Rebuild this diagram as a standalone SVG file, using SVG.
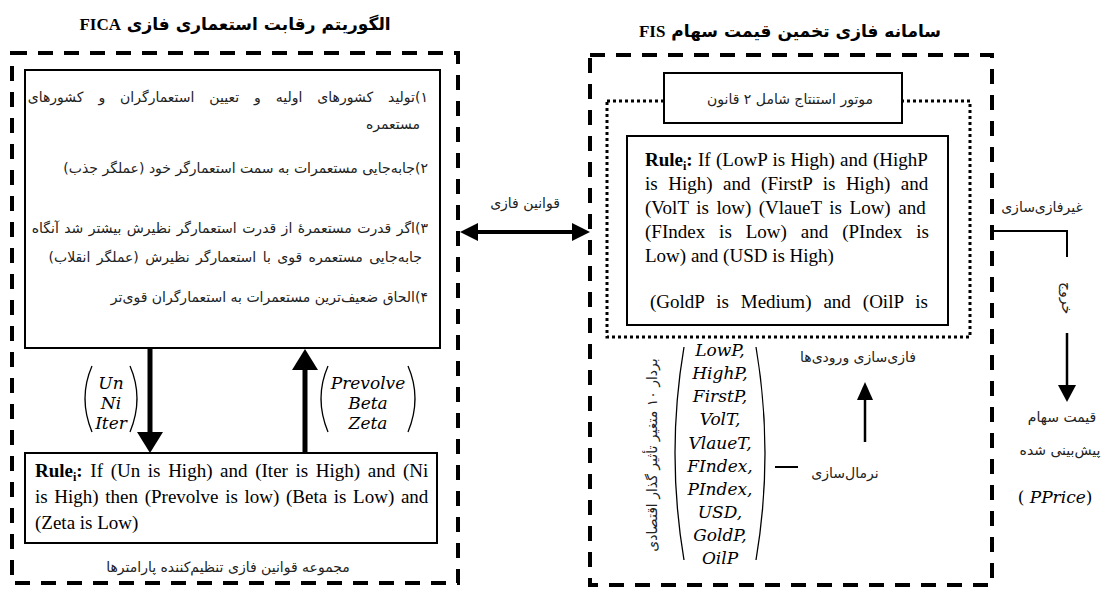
<svg xmlns="http://www.w3.org/2000/svg" width="1105" height="590" viewBox="0 0 1105 590">
<style>
.dash{fill:none;stroke:#000;stroke-width:4;stroke-dasharray:15 11}
.dot{fill:none;stroke:#000;stroke-width:3;stroke-dasharray:3 3}
.box{fill:#fff;stroke:#000;stroke-width:2}
.fa{font-family:"DejaVu Sans",sans-serif;font-size:14px;fill:#222;direction:rtl}
.fac{font-family:"DejaVu Sans",sans-serif;font-size:14px;fill:#222;text-anchor:middle}
.title{font-family:"DejaVu Sans",sans-serif;font-size:17px;font-weight:bold;text-anchor:middle;direction:rtl}
.tl{font-family:"Liberation Serif",serif}
.en{font-family:"Liberation Serif",serif;font-size:19px;fill:#000}
.b{font-weight:bold}
.m{font-family:"DejaVu Serif",serif;font-style:italic;font-size:17px;text-anchor:middle}
.ln{stroke:#000;fill:none}
</style>

<g id="fica">
<text class="title" x="235" y="30">الگوریتم رقابت استعماری فازی <tspan class="tl">FICA</tspan></text>
<rect class="dash" x="12" y="53" width="446" height="530"/>
</g>

<g id="fica-steps">
<rect class="box" x="25" y="70" width="415" height="278"/>
<text class="fa" x="428" y="102" word-spacing="10.5">۱)تولید کشورهای اولیه و تعیین استعمارگران و کشورهای</text>
<text class="fa" x="420" y="129">مستعمره</text>
<text class="fa" x="428" y="173">۲)جابه‌جایی مستعمرات به سمت استعمارگر خود (عملگر جذب)</text>
<text class="fa" x="428" y="233" word-spacing="1">۳)اگر قدرت مستعمرۀ  از قدرت استعمارگر نظیرش بیشتر شد آنگاه</text>
<text class="fa" x="422" y="262" word-spacing="2">جابه‌جایی مستعمره قوی با استعمارگر نظیرش (عملگر انقلاب)</text>
<text class="fa" x="428" y="302">۴)الحاق ضعیف‌ترین مستعمرات به استعمارگران قوی‌تر</text>
</g>

<g id="fica-rules">
<rect class="box" x="25" y="453" width="412" height="90"/>
<text class="en" x="35" y="477" word-spacing="2.9"><tspan class="b">Rule<tspan font-size="12" dy="4">i</tspan><tspan dy="-4">:</tspan></tspan> If (Un is High) and (Iter is High) and (Ni</text>
<text class="en" x="35" y="503" word-spacing="1.9">is High) then (Prevolve is low) (Beta is Low) and</text>
<text class="en" x="35" y="529">(Zeta is Low)</text>
<text class="fac" x="228" y="572" font-size="12">مجموعه قوانین فازی تنظیم‌کننده پارامترها</text>
</g>

<g id="vec-in">
<path class="ln" stroke-width="1.3" d="M92,366 Q78,398 92,432"/>
<path class="ln" stroke-width="1.3" d="M130,366 Q144,398 130,432"/>
<text class="m" x="111" y="389">Un</text>
<text class="m" x="111" y="409">Ni</text>
<text class="m" x="111" y="429">Iter</text>
</g>
<g id="vec-out">
<path class="ln" stroke-width="1.3" d="M328,366 Q314,398 328,432"/>
<path class="ln" stroke-width="1.3" d="M408,366 Q422,398 408,432"/>
<text class="m" x="368" y="389">Prevolve</text>
<text class="m" x="368" y="409">Beta</text>
<text class="m" x="368" y="429">Zeta</text>
</g>

<g id="fis">
<text class="title" x="790" y="37">سامانه فازی تخمین قیمت سهام <tspan class="tl">FIS</tspan></text>
<rect class="dash" x="590" y="55" width="402" height="530"/>
<rect class="dot" x="607" y="101" width="363" height="236"/>
</g>

<g id="engine">
<rect class="box" x="664" y="73" width="238" height="50"/>
<text class="fac" x="790" y="104">موتور استنتاج شامل ۲ قانون</text>
</g>

<g id="fis-rules">
<rect class="box" x="627" y="136" width="321" height="189"/>
<text class="en" x="645" y="166" word-spacing="0.6"><tspan class="b">Rule<tspan font-size="12" dy="4">i</tspan><tspan dy="-4">:</tspan></tspan> If (LowP is High) and (HighP</text>
<text class="en" x="645" y="190" word-spacing="5.8">is High) and (FirstP is High) and</text>
<text class="en" x="645" y="214" word-spacing="2.8">(VolT is low) (VlaueT is Low) and</text>
<text class="en" x="645" y="238" word-spacing="9.2">(FIndex is Low) and (PIndex is</text>
<text class="en" x="645" y="262">Low) and (USD is High)</text>
<text class="en" x="650" y="308" word-spacing="7.2">(GoldP is Medium) and (OilP is</text>
</g>

<g id="vec-econ">
<path class="ln" stroke-width="1.3" d="M684,347 Q666,453 684,560"/>
<path class="ln" stroke-width="1.3" d="M756,347 Q774,453 756,560"/>
<text class="m" x="720" y="356">LowP,</text>
<text class="m" x="720" y="379">HighP,</text>
<text class="m" x="720" y="402">FirstP,</text>
<text class="m" x="720" y="425">VolT,</text>
<text class="m" x="720" y="449">VlaueT,</text>
<text class="m" x="720" y="472">FIndex,</text>
<text class="m" x="720" y="495">PIndex,</text>
<text class="m" x="720" y="518">USD,</text>
<text class="m" x="720" y="541">GoldP,</text>
<text class="m" x="720" y="564">OilP</text>
<text class="fac" font-size="13" transform="translate(657,455) rotate(-90)">بردار ۱۰ متغیر تأثیر گذار اقتصادی</text>
</g>

<g id="labels">
<text class="fac" x="525" y="208">قوانین فازی</text>
<text class="fac" x="1042" y="212">غیرفازی‌سازی</text>
<text class="fac" x="858" y="362">فازی‌سازی ورودی‌ها</text>
<text class="fac" x="845" y="478">نرمال‌سازی</text>
<text class="fac" transform="translate(1062,298) rotate(90)">خروج</text>
<text class="fac" x="1062" y="422">قیمت سهام</text>
<text class="fac" x="1060" y="455">پیش‌بینی شده</text>
<text x="1055" y="503" text-anchor="middle" font-family="DejaVu Serif,serif" font-size="17">( <tspan font-style="italic">PPrice</tspan>)</text>
</g>

<g id="connectors">
<line class="ln" stroke-width="5" x1="150" y1="348" x2="150" y2="434"/>
<polygon points="137,432 163,432 150,453"/>
<line class="ln" stroke-width="5" x1="305" y1="453" x2="305" y2="368"/>
<polygon points="292,370 318,370 305,349"/>
<line class="ln" stroke-width="4" x1="476" y1="232" x2="574" y2="232"/>
<polygon points="478,223 478,241 460,232"/>
<polygon points="572,223 572,241 590,232"/>
<polyline class="ln" stroke-width="2" points="992,231 1067,231 1067,257"/>
<line class="ln" stroke-width="2.5" x1="1067" y1="333" x2="1067" y2="387"/>
<polygon points="1058,385 1076,385 1067,402"/>
<line class="ln" stroke-width="2.5" x1="865" y1="442" x2="865" y2="398"/>
<polygon points="857,400 873,400 865,382"/>
<line class="ln" stroke-width="2" x1="775" y1="467" x2="798" y2="467"/>
</g>
</svg>
